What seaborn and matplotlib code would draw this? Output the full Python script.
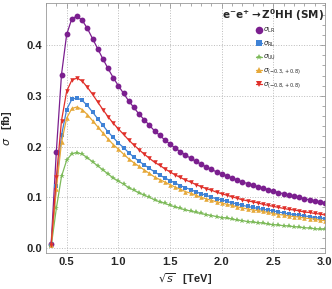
import numpy as np
import pandas as pd
import matplotlib
matplotlib.use("Agg")
import matplotlib.pyplot as plt
import seaborn as sns

sqrt_s = [0.35, 0.40, 0.45, 0.50, 0.55, 0.60, 0.65, 0.70, 0.75, 0.80, 0.85, 0.90, 0.95, 1.00,
          1.05, 1.10, 1.15, 1.20, 1.25, 1.30, 1.35, 1.40, 1.45, 1.50, 1.55, 1.60, 1.65, 1.70,
          1.75, 1.80, 1.85, 1.90, 1.95, 2.00, 2.05, 2.10, 2.15, 2.20, 2.25, 2.30, 2.35, 2.40,
          2.45, 2.50, 2.55, 2.60, 2.65, 2.70, 2.75, 2.80, 2.85, 2.90, 2.95, 3.00]

sigma_LR = [0.008, 0.190, 0.342, 0.421, 0.452, 0.457, 0.449, 0.433, 0.413, 0.393, 0.373, 0.354, 0.336, 0.320,
            0.305, 0.290, 0.277, 0.264, 0.253, 0.242, 0.231, 0.222, 0.213, 0.205, 0.197, 0.190, 0.183, 0.177,
            0.171, 0.165, 0.160, 0.155, 0.150, 0.146, 0.142, 0.138, 0.134, 0.130, 0.127, 0.124, 0.121, 0.118,
            0.115, 0.112, 0.109, 0.107, 0.104, 0.102, 0.100, 0.097, 0.095, 0.093, 0.091, 0.089]
sigma_RL = [0.005, 0.123, 0.222, 0.273, 0.293, 0.296, 0.291, 0.281, 0.268, 0.255, 0.242, 0.229, 0.218, 0.207,
            0.198, 0.188, 0.179, 0.171, 0.164, 0.157, 0.150, 0.144, 0.138, 0.133, 0.128, 0.123, 0.119, 0.115,
            0.111, 0.107, 0.104, 0.100, 0.097, 0.095, 0.092, 0.089, 0.087, 0.084, 0.082, 0.080, 0.078, 0.076,
            0.075, 0.073, 0.071, 0.069, 0.067, 0.066, 0.065, 0.063, 0.062, 0.060, 0.059, 0.058]
sigma_UU = [0.003, 0.078, 0.141, 0.173, 0.186, 0.188, 0.185, 0.178, 0.170, 0.162, 0.154, 0.146, 0.138, 0.132,
            0.126, 0.119, 0.114, 0.109, 0.104, 0.100, 0.095, 0.091, 0.088, 0.084, 0.081, 0.078, 0.075, 0.073,
            0.070, 0.068, 0.066, 0.064, 0.062, 0.060, 0.059, 0.057, 0.055, 0.054, 0.052, 0.051, 0.050, 0.049,
            0.047, 0.046, 0.045, 0.044, 0.043, 0.042, 0.041, 0.040, 0.039, 0.038, 0.037, 0.037]
sigma_p38 = [0.005, 0.116, 0.208, 0.256, 0.275, 0.278, 0.273, 0.263, 0.251, 0.239, 0.227, 0.215, 0.204, 0.195,
             0.185, 0.176, 0.168, 0.161, 0.154, 0.147, 0.140, 0.135, 0.130, 0.125, 0.120, 0.116, 0.111, 0.108,
             0.104, 0.100, 0.097, 0.094, 0.091, 0.089, 0.086, 0.084, 0.081, 0.079, 0.077, 0.075, 0.074, 0.072,
             0.070, 0.068, 0.066, 0.065, 0.063, 0.062, 0.061, 0.059, 0.058, 0.057, 0.055, 0.054]
sigma_p88 = [0.006, 0.139, 0.251, 0.309, 0.331, 0.335, 0.329, 0.317, 0.303, 0.288, 0.273, 0.259, 0.246, 0.235,
             0.224, 0.213, 0.203, 0.194, 0.185, 0.177, 0.169, 0.163, 0.156, 0.150, 0.144, 0.139, 0.134, 0.130,
             0.125, 0.121, 0.117, 0.114, 0.110, 0.107, 0.104, 0.101, 0.098, 0.095, 0.093, 0.091, 0.089, 0.086,
             0.084, 0.082, 0.080, 0.078, 0.076, 0.075, 0.073, 0.071, 0.070, 0.068, 0.067, 0.065]

labels = [r"$\sigma_{\rm LR}$", r"$\sigma_{\rm RL}$", r"$\sigma_{\rm UU}$",
          r"$\sigma_{(-0.3,+0.8)}$", r"$\sigma_{(-0.8,+0.8)}$"]
series = [sigma_LR, sigma_RL, sigma_UU, sigma_p38, sigma_p88]
colors = ["#7B1F8F", "#3F82D6", "#7DBA5A", "#E6A93A", "#E0302A"]
markers = ["o", "s", "*", "^", "v"]
msizes = [4.2, 3.3, 3.8, 3.3, 3.3]

sns.set_style("white")
plt.rcParams['font.family'] = ['Liberation Sans', 'DejaVu Sans']
plt.rcParams['mathtext.fontset'] = 'dejavusans'

fig = plt.figure(figsize=(3.32, 2.89), dpi=100)
ax = fig.add_axes([46/332, 1-253/289, 279/332, 250/289])

for lab, vals, c, m, ms in zip(labels, series, colors, markers, msizes):
    df = pd.DataFrame({"x": sqrt_s, "y": vals})
    sns.lineplot(data=df, x="x", y="y", ax=ax, color=c, marker=m, markersize=ms,
                 markeredgewidth=0, linewidth=0.9, label=lab)

ax.set_xlim(0.3, 3.0)
ax.set_ylim(-0.0099, 0.483)
ax.set_xticks([0.5, 1.0, 1.5, 2.0, 2.5, 3.0])
ax.set_yticks([0.0, 0.1, 0.2, 0.3, 0.4])
ax.set_xticklabels(["0.5", "1.0", "1.5", "2.0", "2.5", "3.0"])
ax.set_yticklabels(["0.0", "0.1", "0.2", "0.3", "0.4"])
ax.xaxis.set_minor_locator(matplotlib.ticker.MultipleLocator(0.1))
ax.yaxis.set_minor_locator(matplotlib.ticker.MultipleLocator(0.02))
ax.tick_params(which="both", direction="in", top=True, right=True, color="#888888", width=0.5)
ax.tick_params(which="major", length=3.5, labelsize=8, pad=3)
ax.tick_params(which="minor", length=2)
for t in ax.get_xticklabels() + ax.get_yticklabels():
    t.set_fontweight("bold")
ax.grid(True, which="major", linestyle=":", color="#bbbbbb", linewidth=0.7)
for sp in ax.spines.values():
    sp.set_color("#999999")
    sp.set_linewidth(0.6)

ax.set_xlabel(r"$\sqrt{s}$   [TeV]", fontsize=8, fontweight="bold", labelpad=3)
ax.set_ylabel(r"$\sigma$   [fb]", fontsize=8, fontweight="bold", labelpad=9)

ax.text(0.995, 0.985, r"$\mathbf{e^{-}e^{+}\rightarrow Z^{0}HH\ (SM)}$", transform=ax.transAxes,
        ha="right", va="top", fontsize=7.5)

leg = ax.legend(loc="upper left", bbox_to_anchor=((256 - 46) / 279, (253 - 26) / 250), frameon=False,
                fontsize=5, handlelength=0.9, handletextpad=0.1, labelspacing=0.62,
                markerscale=1.3, borderaxespad=0.0, borderpad=0.0)

fig.savefig("out.png", dpi=100)
